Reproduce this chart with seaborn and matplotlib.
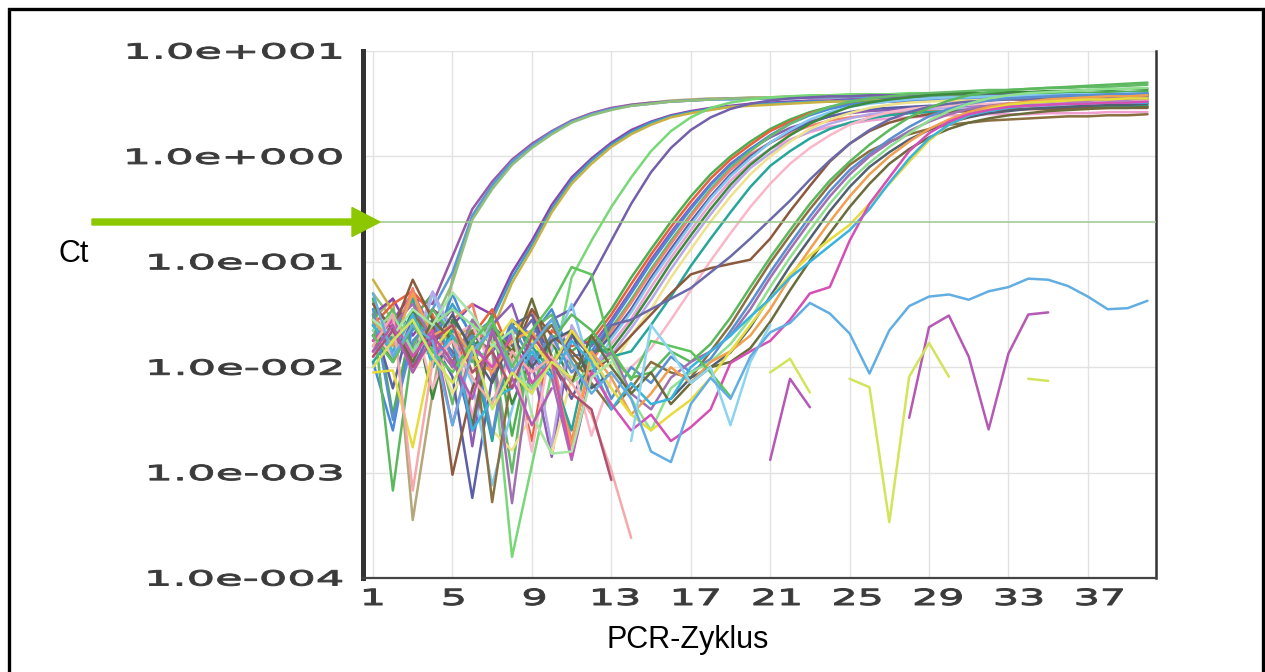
import numpy as np
import pandas as pd
import matplotlib
matplotlib.use("Agg")
import matplotlib.pyplot as plt
import seaborn as sns
from matplotlib.patheffects import AbstractPathEffect
from matplotlib.transforms import Affine2D
from matplotlib.patches import FancyArrow, Rectangle

# ---------------- data: log10(delta Rn), per PCR cycle 1..n ----------------
N = None
A1 = [-1.55, -1.35, -3.45, -2.25, -1.15, -0.58, -0.29, -0.06, 0.10, 0.23,
      0.33, 0.40, 0.45, 0.49, 0.51, 0.53, 0.54, 0.55, 0.55, 0.56,
      0.56, 0.57, 0.57, 0.57, 0.58, 0.58, 0.58, 0.58, 0.59, 0.59,
      0.59, 0.59, 0.59, 0.60, 0.60, 0.60, 0.60, 0.60, 0.60, 0.60]
A2 = [-1.45, -1.60, -1.35, -1.40, -0.95, -0.50, -0.24, -0.03, 0.12, 0.24,
      0.34, 0.41, 0.46, 0.49, 0.51, 0.52, 0.53, 0.54, 0.55, 0.55,
      0.55, 0.56, 0.56, 0.56, 0.57, 0.57, 0.57, 0.57, 0.57, 0.58,
      0.58, 0.58, 0.58, 0.58, 0.58, 0.58, 0.58, 0.58, 0.58, 0.58]
A3 = [-1.70, -1.50, -1.65, -1.45, -1.10, -0.56, -0.27, -0.05, 0.10, 0.23,
      0.33, 0.40, 0.45, 0.48, 0.50, 0.52, 0.53, 0.54, 0.54, 0.55,
      0.55, 0.55, 0.56, 0.56, 0.56, 0.56, 0.57, 0.57, 0.57, 0.57,
      0.57, 0.57, 0.58, 0.58, 0.58, 0.58, 0.58, 0.58, 0.58, 0.58]
A4 = [-1.30, -1.55, -1.40, -1.60, -1.20, -0.60, -0.31, -0.08, 0.08, 0.21,
      0.32, 0.39, 0.44, 0.48, 0.50, 0.52, 0.53, 0.54, 0.55, 0.55,
      0.56, 0.56, 0.57, 0.57, 0.57, 0.58, 0.58, 0.58, 0.58, 0.58,
      0.59, 0.59, 0.59, 0.59, 0.59, 0.59, 0.59, 0.59, 0.59, 0.59]
B1 = [-1.50, -1.35, -1.70, -1.45, -1.60, -1.40, -1.50, -1.10, -0.80, -0.46,
      -0.20, -0.02, 0.13, 0.25, 0.33, 0.39, 0.43, 0.46, 0.48, 0.50,
      0.51, 0.52, 0.53, 0.53, 0.54, 0.54, 0.55, 0.55, 0.55, 0.55,
      0.56, 0.56, 0.56, 0.56, 0.56, 0.56, 0.56, 0.56, 0.56, 0.56]
B2 = [-1.65, -1.80, -1.50, -1.75, -1.40, -1.70, -1.55, -1.15, -0.84, -0.50,
      -0.23, -0.04, 0.11, 0.23, 0.32, 0.38, 0.42, 0.45, 0.47, 0.49,
      0.50, 0.51, 0.52, 0.52, 0.53, 0.53, 0.54, 0.54, 0.54, 0.54,
      0.55, 0.55, 0.55, 0.55, 0.55, 0.55, 0.55, 0.55, 0.55, 0.55]
B3 = [-1.17, -1.47, -1.85, -1.55, -1.75, -1.60, -1.65, -1.20, -0.88, -0.53,
      -0.26, -0.07, 0.09, 0.21, 0.30, 0.37, 0.41, 0.44, 0.47, 0.48,
      0.49, 0.50, 0.51, 0.52, 0.52, 0.53, 0.53, 0.53, 0.54, 0.54,
      0.54, 0.54, 0.54, 0.54, 0.54, 0.54, 0.54, 0.54, 0.54, 0.54]
C1 = [-1.60, -1.75, -1.50, -1.85, -1.65, -1.90, -1.85, -3.80, -2.93, -2.05,
      -1.15, -0.80, -0.48, -0.20, 0.05, 0.24, 0.37, 0.46, 0.51, 0.54,
      0.56, 0.57, 0.58, 0.58, 0.59, 0.59, 0.59, 0.60, 0.60, 0.60,
      0.60, 0.60, 0.60, 0.60, 0.60, 0.60, 0.60, 0.60, 0.60, 0.60]
C2 = [-1.75, -1.55, -1.80, -1.60, -1.90, -1.70, -1.85, -1.65, -1.75, -1.55,
      -1.45, -1.15, -0.80, -0.45, -0.15, 0.08, 0.25, 0.37, 0.45, 0.50,
      0.53, 0.55, 0.56, 0.57, 0.57, 0.58, 0.58, 0.58, 0.59, 0.59,
      0.59, 0.59, 0.59, 0.59, 0.59, 0.59, 0.59, 0.59, 0.59, 0.59]
D1 = [-1.35, -2.45, -1.55, -1.30, -1.65, -1.90, -1.50, -2.65, -1.75, -1.60,
      -1.85, -1.70, -1.45, -1.15, -0.88, -0.62, -0.38, -0.17, 0.00, 0.14,
      0.26, 0.35, 0.42, 0.47, 0.50, 0.52, 0.53, 0.54, 0.55, 0.56,
      0.57, 0.57, 0.58, 0.59, 0.59, 0.60, 0.60, 0.61, 0.61, 0.62]
D2 = [-1.60, -1.40, -1.28, -1.50, -2.00, -1.70, -1.45, -1.90, -2.70, -1.65,
      -1.80, -1.75, -1.50, -1.21, -0.93, -0.67, -0.43, -0.21, -0.03, 0.11,
      0.24, 0.33, 0.41, 0.46, 0.49, 0.51, 0.52, 0.52, 0.53, 0.53,
      0.53, 0.54, 0.54, 0.54, 0.54, 0.55, 0.55, 0.55, 0.55, 0.55]
D3 = [-1.85, -1.55, -1.30, -1.65, -1.45, -2.75, -1.60, -1.40, -1.95, -2.85,
      -1.70, -1.80, -1.55, -1.27, -0.98, -0.72, -0.48, -0.26, -0.07, 0.07,
      0.18, 0.27, 0.33, 0.38, 0.41, 0.43, 0.44, 0.45, 0.46, 0.46,
      0.47, 0.47, 0.48, 0.48, 0.49, 0.49, 0.49, 0.50, 0.50, 0.50]
D4 = [-1.95, -2.60, -1.60, -1.85, -1.30, -1.75, -2.05, -1.55, -1.70, -1.45,
      -1.90, -1.85, -1.58, -1.30, -1.01, -0.75, -0.50, -0.27, -0.08, 0.07,
      0.20, 0.31, 0.39, 0.45, 0.49, 0.51, 0.52, 0.53, 0.54, 0.54,
      0.55, 0.55, 0.56, 0.56, 0.57, 0.57, 0.57, 0.58, 0.58, 0.58]
D5 = [-1.70, -1.45, -1.90, -1.60, -2.35, -1.55, -1.80, -3.00, -1.65, -1.50,
      -2.00, -1.90, -1.63, -1.36, -1.07, -0.80, -0.55, -0.31, -0.11, 0.05,
      0.19, 0.31, 0.40, 0.47, 0.52, 0.55, 0.57, 0.59, 0.60, 0.61,
      0.62, 0.63, 0.63, 0.64, 0.65, 0.65, 0.66, 0.66, 0.67, 0.68]
D6 = [-1.50, -1.75, -1.25, -1.95, -1.55, -1.40, -2.10, -1.70, -1.45, -1.90,
      -2.70, -1.95, -1.66, -1.39, -1.10, -0.83, -0.57, -0.33, -0.13, 0.02,
      0.13, 0.22, 0.29, 0.34, 0.37, 0.39, 0.41, 0.42, 0.43, 0.43,
      0.44, 0.44, 0.45, 0.45, 0.45, 0.46, 0.46, 0.46, 0.47, 0.47]
D7 = [-1.55, -2.20, -1.45, -1.75, -2.09, -3.24, -2.10, -1.60, -1.50, -1.95,
      -2.30, -1.90, -1.70, -1.45, -1.15, -0.88, -0.62, -0.38, -0.17, 0.00,
      0.13, 0.24, 0.32, 0.38, 0.42, 0.45, 0.46, 0.47, 0.48, 0.48,
      0.49, 0.49, 0.50, 0.50, 0.50, 0.51, 0.51, 0.51, 0.52, 0.52]
D8 = [-1.80, -1.65, -2.00, -1.30, -1.75, -2.15, -3.12, -2.40, -1.70, -1.85,
      -1.40, -2.05, -1.73, -1.48, -1.18, -0.91, -0.65, -0.40, -0.19, -0.02,
      0.13, 0.25, 0.35, 0.42, 0.47, 0.50, 0.52, 0.54, 0.55, 0.56,
      0.56, 0.57, 0.57, 0.58, 0.58, 0.59, 0.59, 0.59, 0.60, 0.60]
D9 = [-1.90, -1.55, -1.90, -1.85, -1.60, -2.47, -1.70, -1.95, -2.25, -1.80,
      -1.65, -2.10, -1.78, -1.54, -1.24, -0.96, -0.70, -0.45, -0.23, -0.06,
      0.07, 0.16, 0.23, 0.28, 0.31, 0.34, 0.36, 0.37, 0.38, 0.39,
      0.39, 0.40, 0.40, 0.40, 0.41, 0.41, 0.41, 0.42, 0.42, 0.42]
D10 = [-1.60, -1.95, -1.45, -2.30, -1.55, -1.80, -1.65, -2.35, -1.90, -1.75,
       -2.15, -1.85, -1.83, -1.58, -1.30, -1.01, -0.75, -0.50, -0.27, -0.08,
       0.07, 0.20, 0.31, 0.40, 0.47, 0.51, 0.54, 0.56, 0.58, 0.59,
       0.60, 0.60, 0.61, 0.61, 0.62, 0.62, 0.63, 0.63, 0.64, 0.64]
D11 = [-1.70, -1.50, -1.85, -1.28, -1.65, -1.95, -1.55, -2.05, -1.75, -2.75,
       -1.60, -1.95, -1.88, -1.63, -1.36, -1.07, -0.80, -0.55, -0.31, -0.11,
       0.03, 0.15, 0.24, 0.31, 0.36, 0.40, 0.42, 0.44, 0.45, 0.46,
       0.46, 0.47, 0.47, 0.48, 0.48, 0.49, 0.49, 0.49, 0.50, 0.50]
D12 = [-1.85, -1.60, -2.05, -1.75, -2.25, -1.90, -2.60, -2.79, -2.45, -2.82,
       -2.10, -1.95, -2.00, -1.70, -1.45, -1.15, -0.88, -0.62, -0.38, -0.17,
       0.00, 0.14, 0.26, 0.35, 0.41, 0.46, 0.49, 0.51, 0.52, 0.53,
       0.53, 0.54, 0.54, 0.55, 0.55, 0.55, 0.56, 0.56, 0.56, 0.56]
D13 = [-1.95, -1.70, -1.35, -2.00, -1.65, -1.85, -2.70, -1.60, -1.80, -2.05,
       -2.60, -1.75, -1.90, -1.85, -1.60, -1.33, -1.04, -0.78, -0.53, -0.29,
       -0.09, 0.05, 0.17, 0.26, 0.32, 0.36, 0.39, 0.41, 0.42, 0.43,
       0.44, 0.44, 0.45, 0.45, 0.46, 0.46, 0.47, 0.47, 0.48, 0.48]
D14 = [-1.65, -1.90, -1.50, -2.20, -1.70, -1.60, -2.00, -1.85, -2.80, -1.75,
       -1.95, -2.65, -2.10, -2.00, -1.82, -1.55, -1.27, -0.99, -0.73, -0.48,
       -0.26, -0.07, 0.08, 0.20, 0.30, 0.37, 0.42, 0.45, 0.47, 0.48,
       0.49, 0.50, 0.50, 0.51, 0.51, 0.52, 0.52, 0.52, 0.53, 0.53]
E1 = [-1.40, -1.65, -1.17, -1.55, -3.02, -2.20, -1.75, -1.90, -1.45, -1.70,
      -1.85, -2.05, -1.90, -1.70, -1.50, -1.30, -1.12, -1.06, -1.02, -0.98,
      -0.78, -0.52, -0.28, -0.05, 0.12, 0.24, 0.32, 0.37, 0.40, 0.42,
      0.43, 0.44, 0.44, 0.45, 0.45, 0.45, 0.46, 0.46, 0.46, 0.46]
E2 = [-1.75, -1.55, -2.00, -1.65, -1.85, -2.60, -1.60, -1.80, -1.55, -2.00,
      -1.70, -1.90, -1.60, -1.55, -1.45, -1.35, -1.25, -1.10, -0.95, -0.78,
      -0.60, -0.42, -0.22, -0.04, 0.12, 0.25, 0.35, 0.42, 0.47, 0.50,
      0.52, 0.53, 0.54, 0.54, 0.55, 0.55, 0.56, 0.56, 0.56, 0.57]
E3 = [-1.50, -3.17, -1.80, -1.45, -1.70, -1.95, -1.60, -1.85, -2.20, -1.75,
      -1.50, -1.65, -1.90, -2.10, -2.05, -1.85, -1.95, -1.78, -1.53, -1.24,
      -0.96, -0.70, -0.45, -0.23, -0.05, 0.11, 0.25, 0.37, 0.46, 0.53,
      0.58, 0.61, 0.63, 0.64, 0.65, 0.66, 0.67, 0.68, 0.69, 0.70]
E4 = [-1.60, -1.85, -1.50, -1.70, -1.95, -1.65, -3.28, -2.05, -1.80, -1.60,
      -1.90, -2.15, -2.40, -2.20, -1.95, -2.05, -2.10, -1.85, -1.60, -1.30,
      -1.01, -0.75, -0.50, -0.27, -0.08, 0.05, 0.14, 0.21, 0.26, 0.30,
      0.32, 0.34, 0.35, 0.36, 0.37, 0.38, 0.38, 0.39, 0.39, 0.40]
E5 = [-1.45, -2.50, -1.75, -1.55, -1.90, -1.70, -2.65, -1.60, -1.95, -1.70,
      -2.05, -1.85, -2.30, -2.00, -2.15, -1.90, -2.05, -1.92, -1.66, -1.39,
      -1.10, -0.83, -0.57, -0.33, -0.13, 0.02, 0.16, 0.28, 0.38, 0.45,
      0.50, 0.53, 0.55, 0.56, 0.57, 0.58, 0.58, 0.59, 0.59, 0.60]
E6 = [-1.85, -1.60, -1.40, -1.75, -2.00, -1.55, -1.80, -3.29, -1.90, -2.10,
      -2.88, -2.05, -1.85, -2.25, -2.40, -2.10, -1.95, -1.85, -1.70, -1.45,
      -1.15, -0.88, -0.62, -0.38, -0.17, 0.00, 0.13, 0.24, 0.33, 0.40,
      0.45, 0.48, 0.50, 0.51, 0.52, 0.53, 0.53, 0.54, 0.54, 0.55]
E7 = [-1.65, -1.50, -1.85, -1.60, -1.45, -1.60, -1.75, -2.05, -2.20, -1.95,
      -2.15, -2.00, -1.90, -2.30, -2.60, -2.20, -2.05, -1.95, -1.78, -1.54,
      -1.24, -0.96, -0.70, -0.45, -0.23, -0.06, 0.09, 0.22, 0.34, 0.43,
      0.50, 0.55, 0.58, 0.60, 0.61, 0.62, 0.63, 0.64, 0.64, 0.65]
E8 = [-1.70, -1.95, -1.60, -1.80, -1.50, -1.85, -2.15, -1.70, -2.00, -1.75,
      -1.65, -2.20, -2.05, N, N, -2.30, -2.10, -2.00, -1.86, -1.62,
      -1.33, -1.04, -0.78, -0.52, -0.29, -0.10, 0.04, 0.16, 0.25, 0.32,
      0.37, 0.41, 0.43, 0.45, 0.46, 0.47, 0.48, 0.49, 0.49, 0.50]
E9 = [-1.55, -1.80, -1.30, -1.70, -1.60, -1.90, -2.05, -1.75, -1.65, -2.00,
      -2.75, -1.85, -2.10, -2.45, -2.25, -2.00, -2.15, -1.95, -1.85, -1.70,
      -1.45, -1.15, -0.88, -0.62, -0.38, -0.17, 0.00, 0.14, 0.26, 0.35,
      0.42, 0.47, 0.50, 0.52, 0.54, 0.55, 0.56, 0.57, 0.57, 0.58]
E10 = [-1.80, -1.60, -1.95, -1.55, -1.75, -2.55, -1.65, -1.85, -1.35, -1.90,
       -2.15, -1.70, -2.00, -2.25, -2.05, -2.35, -2.15, -2.00, -1.95, -1.82,
       -1.57, -1.27, -0.99, -0.73, -0.48, -0.26, -0.07, 0.07, 0.18, 0.26,
       0.32, 0.36, 0.39, 0.41, 0.43, 0.44, 0.45, 0.46, 0.46, 0.47]
E11 = [-2.05, -2.03, -2.76, -1.85, -1.60, -2.05, -1.80, -1.55, -1.75, -2.00,
       -1.65, -1.90, -2.20, -2.45, -2.60, -2.45, -2.31, -2.10, -1.85, -1.60,
       -1.35, -1.12, -0.94, -0.79, -0.65, -0.45, -0.26, -0.05, 0.15, 0.30,
       0.39, 0.45, 0.49, 0.51, 0.52, 0.53, 0.54, 0.54, 0.55, 0.55]
E12 = [-1.60, -1.85, -1.50, -1.95, -1.70, -2.60, -2.30, -2.20, -1.85, -2.10,
       -1.75, -1.95, -2.40, -2.15, -2.35, -2.30, -2.00, -1.85, -1.70, -1.52,
       -1.35, -1.15, -1.00, -0.85, -0.70, -0.50, -0.25, -0.02, 0.17, 0.30,
       0.39, 0.43, 0.46, 0.48, 0.49, 0.50, 0.50, 0.51, 0.51, 0.51]
E13 = [-1.75, -1.55, -1.90, -1.65, -2.55, -1.80, -2.00, -1.70, -2.15, -1.95,
       -2.85, -2.05, -2.35, -2.60, -2.45, -2.70, -2.57, -2.40, -1.96, -1.85,
       -1.75, -1.55, -1.30, -1.24, -0.80, -0.45, -0.20, 0.05, 0.22, 0.33,
       0.40, 0.44, 0.47, 0.48, 0.49, 0.50, 0.50, 0.51, 0.51, 0.52]
BL = [-1.30, -1.90, -1.60, -1.75, -2.55, -1.85, -1.65, -2.05, -1.80, -1.55,
      -1.95, -2.25, -2.05, -2.30, -2.80, -2.90, -2.35, -2.10, -2.30, -1.90,
      -1.67, -1.58, -1.39, -1.49, -1.68, -2.06, -1.65, -1.42, -1.33, -1.31,
      -1.36, -1.28, -1.24, -1.16, -1.17, -1.23, -1.33, -1.45, -1.44, -1.37]
MG = [-1.85, -1.60, -2.05, -1.70, -1.95, -2.30, -1.65, -2.10, -2.55, -2.20,
      N, N, N, N, N, N, N, N, N, N,
      -2.88, -2.11, -2.38, N, N, N, N, -2.48, -1.62, -1.51,
      -1.90, -2.59, -1.87, -1.50, -1.48]
LM = [-2.00, -1.75, -1.55, -1.90, -2.15, -1.80, -2.40, -2.05, -2.25, -1.95,
      -2.10, N, N, N, N, N, N, N, N, N,
      -2.05, -1.92, -2.24, N, -2.11, -2.19, -3.47, -2.09, -1.77, -2.09,
      N, N, N, -2.11, -2.13]
N1 = [-1.55, -1.70, -1.45, -1.60, -1.29, -1.50, -1.80, -1.65, -2.45, -2.82,
      -2.80, -2.10, -1.95]
N2 = [-1.80, -1.50, -3.17, -1.95, -1.75, -2.10, -2.35, -1.85, -2.05, -1.90,
      -2.15, -2.45, -2.98, -3.62]
N3 = [-1.70, -1.95, -1.60, -1.85, -2.05, -1.75, -1.55, -2.00, -1.65, -1.40,
      -1.05, -1.12, -1.84, -2.12, -1.75, -1.80, -1.85, -2.05, -2.28]
N4 = [-1.90, -1.65, -2.00, -1.75, -1.60, -2.05, -1.85, -2.20, -1.70, -1.95,
      -2.25, -2.40, -3.07]
N5 = [N, N, N, N, N, N, N, N, N, N,
      N, N, N, -2.70, -1.60, -1.85, -2.15, -2.00, -2.55, -1.95, -1.60]

curves = {
    "A1": (A1, "#b4a87a"), "A2": (A2, "#9a58a6"), "A3": (A3, "#5b9bd5"), "A4": (A4, "#8fbf7a"),
    "B1": (B1, "#8e44ad"), "B2": (B2, "#3aa0c8"), "B3": (B3, "#c9b243"),
    "C1": (C1, "#78d878"), "C2": (C2, "#7460aa"),
    "D1": (D1, "#4caf50"), "D2": (D2, "#e8603c"), "D3": (D3, "#8e5bb5"), "D4": (D4, "#4a89dc"),
    "D5": (D5, "#66bb6a"), "D6": (D6, "#f4826c"), "D7": (D7, "#5a5fa8"), "D8": (D8, "#82c8f0"),
    "D9": (D9, "#f0a0d0"), "D10": (D10, "#3d8b3d"), "D11": (D11, "#b8a8e8"), "D12": (D12, "#efe28c"),
    "D13": (D13, "#26a69a"), "D14": (D14, "#f8b8c8"),
    "E1": (E1, "#8b5a3c"), "E2": (E2, "#6a6aa8"), "E3": (E3, "#5cb85c"), "E4": (E4, "#8a7040"),
    "E5": (E5, "#5b8fd0"), "E6": (E6, "#a070b0"), "E7": (E7, "#90e090"), "E8": (E8, "#506070"),
    "E9": (E9, "#f0a050"), "E10": (E10, "#6b6b3b"), "E11": (E11, "#e8dc3c"), "E12": (E12, "#38b4e0"),
    "E13": (E13, "#d64fb4"),
    "N1": (N1, "#a6e6a6"), "N2": (N2, "#f4aaaa"), "N3": (N3, "#5ec45e"), "N4": (N4, "#b05070"),
    "N5": (N5, "#8cd4f0"),
    "BL": (BL, "#62aee2"), "MG": (MG, "#b459b4"), "LM": (LM, "#d2e55a"),
}

x_ticks = [1, 5, 9, 13, 17, 21, 25, 29, 33, 37]
y_ticks = [1e-4, 1e-3, 1e-2, 1e-1, 1e0, 1e1]
y_tick_labels = ["1.0e-004", "1.0e-003", "1.0e-002", "1.0e-001", "1.0e+000", "1.0e+001"]
threshold = 0.24

# ---------------- build long-form table (split at gaps so gaps stay open) ----------------
rows = []
for name, (vals, col) in curves.items():
    v = np.array(vals, dtype=float)
    seg, prev_gap = 0, True
    for i, val in enumerate(v):
        if np.isnan(val):
            prev_gap = True
            continue
        if prev_gap:
            seg += 1
            prev_gap = False
        rows.append((f"{name}_{seg}", name, i + 1, 10 ** val))
df = pd.DataFrame(rows, columns=["seg", "curve", "cycle", "rn"])
palette = {s: curves[c][1] for s, c in df[["seg", "curve"]].drop_duplicates().values}


class XStretch(AbstractPathEffect):
    """Horizontally stretch rendered text (wide scanner font look), with a light outline."""
    def __init__(self, sx, anchor="center", lw=0.0):
        super().__init__()
        self.sx = sx
        self.anchor = anchor
        self.lw = lw

    def draw_path(self, renderer, gc, tpath, affine, rgbFace=None):
        ext = tpath.get_extents()
        if self.anchor == "right":
            x0 = ext.x1
        elif self.anchor == "left":
            x0 = ext.x0
        else:
            x0 = 0.5 * (ext.x0 + ext.x1)
        pre = Affine2D().translate(-x0, 0).scale(self.sx, 1).translate(x0, 0)
        gc0 = renderer.new_gc()
        gc0.copy_properties(gc)
        if self.lw > 0 and rgbFace is not None:
            gc0.set_linewidth(self.lw)
            gc0.set_foreground(rgbFace)
            gc0.set_joinstyle("round")
        renderer.draw_path(gc0, tpath, pre + affine, rgbFace)
        gc0.restore()


# ---------------- figure ----------------
sns.set_style("white")
plt.rcParams["font.family"] = ["DejaVu Sans"]

W, H = 1265, 672
fig = plt.figure(figsize=(W / 100, H / 100), dpi=100)
ax = fig.add_axes([362.5 / W, 1 - 578 / H, (1156 - 362.5) / W, (578 - 51) / H])
ax.set_yscale("log")

sns.lineplot(data=df, x="cycle", y="rn", hue="seg", palette=palette, estimator=None,
             legend=False, sort=False, linewidth=1.8, ax=ax)

ax.set_xlim(0.47, 40.43)
ax.set_ylim(1e-4, 1e1)
ax.set_xticks(x_ticks)
ax.set_yticks(y_ticks)
ax.yaxis.set_minor_locator(matplotlib.ticker.NullLocator())
ax.set_xticklabels([])
ax.set_yticklabels([])
ax.tick_params(length=0)
ax.set_xlabel("")
ax.set_ylabel("")
ax.grid(True, color="#e2e2e2", linewidth=1.0)
ax.set_axisbelow(True)

ax.axhline(threshold, color="#9cc98a", linewidth=1.1, zorder=5)

ax.spines["top"].set_visible(False)
ax.spines["left"].set_linewidth(3.6)
ax.spines["left"].set_color("#333333")
ax.spines["bottom"].set_linewidth(1.6)
ax.spines["bottom"].set_color("#444444")
ax.spines["right"].set_linewidth(1.8)
ax.spines["right"].set_color("#333333")

tick_color = "#3a3a3a"
for val, lab in zip(y_ticks, y_tick_labels):
    ax.annotate(lab, xy=(0, val), xycoords=("axes fraction", "data"),
                xytext=(-19.5, -7.5), textcoords="offset pixels",
                ha="right", va="baseline", fontsize=15, color=tick_color,
                path_effects=[XStretch(2.15, "right", lw=0.7)], annotation_clip=False)
for c in x_ticks:
    ax.annotate(str(c), xy=(c, 0), xycoords=("data", "axes fraction"),
                xytext=(0.33 * (c - 1), -27), textcoords="offset pixels",
                ha="center", va="baseline", fontsize=16, color=tick_color,
                path_effects=[XStretch(1.85, "center", lw=0.7)], annotation_clip=False)

fig.text(688 / W, 1 - 648 / H, "PCR-Zyklus", ha="center", va="baseline",
         fontsize=22, family=["Liberation Sans", "DejaVu Sans"], color="black")
fig.text(58 / W, 1 - 262 / H, "Ct", ha="left", va="baseline",
         fontsize=22, family=["Liberation Sans", "DejaVu Sans"], color="black")

arrow = FancyArrow(92 / W, 1 - 222 / H, (380 - 92) / W, 0, width=6 / H,
                   head_width=29 / H, head_length=28 / W, length_includes_head=True,
                   color="#8cc700", transform=fig.transFigure, zorder=10)
fig.patches.append(arrow)

border = Rectangle((8.5 / W, -0.1), (1263 - 8.5) / W, 1.1 - 8.5 / H, fill=False,
                   edgecolor="black", linewidth=2.4, transform=fig.transFigure)
fig.patches.append(border)

fig.savefig("out.png", dpi=100)
